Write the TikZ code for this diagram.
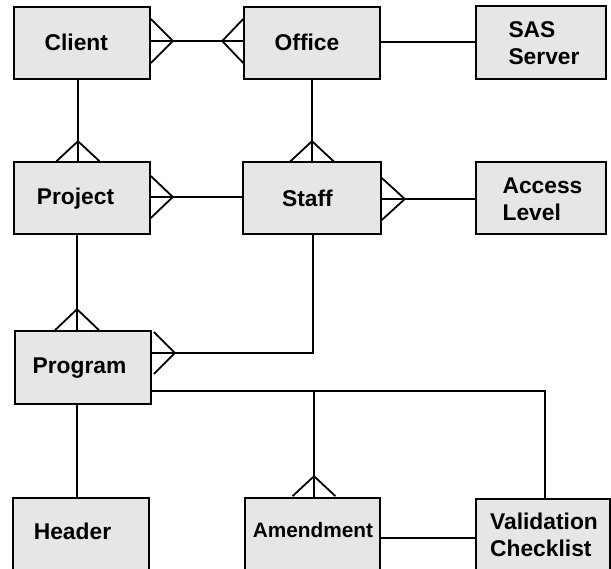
\documentclass[tikz,border=0pt]{standalone}
\usepackage{fontspec}
\setmainfont{Liberation Sans}
\usetikzlibrary{calc}
\definecolor{boxfill}{RGB}{230,230,230}
\begin{document}
\begin{tikzpicture}[x=1pt,y=-1pt,
  ent/.style={draw=black, fill=boxfill, line width=1.6pt, inner sep=0pt, minimum width=136pt, minimum height=72pt},
  lbl/.style={font=\fontsize{22.8}{27}\selectfont\bfseries, inner sep=0pt, text height=16.4pt, text depth=0pt},
  lbltwo/.style={font=\fontsize{22.8}{27}\selectfont\bfseries, inner sep=0pt, align=left},
  conn/.style={line width=1.8pt, line join=miter}]
\useasboundingbox (0,0) rectangle (611,569);
\fill[white] (0,0) rectangle (611,569);
% entities
\node[ent] (client) at (82,43) {};
\node[ent] (office) at (312,43) {};
\node[ent, minimum width=130pt, minimum height=73pt] (sas) at (541,42.5) {};
\node[ent] (project) at (82,198) {};
\node[ent, minimum width=138pt] (staff) at (312,198) {};
\node[ent, minimum width=130pt] (access) at (541,198) {};
\node[ent, minimum height=73pt] (program) at (83,367.5) {};
\node[ent, minimum height=77pt] (header) at (81,536.5) {};
\node[ent, minimum width=135pt, minimum height=77pt] (amend) at (312.5,536.5) {};
\node[ent, minimum width=134pt, minimum height=76pt] (valid) at (543,537) {};
% labels
\node[lbl] (clientT) at (76.3,42.5) {Client};
\node[lbl] (officeT) at (307,42.5) {Office};
\node[lbltwo] (sasT) at (544,43.5) {SAS\\Server};
\node[lbl] (projectT) at (75.5,196.5) {Project};
\node[lbl] (staffT) at (307.5,198.5) {Staff};
\node[lbltwo] (accessT) at (542.5,199) {Access\\Level};
\node[lbl] (programT) at (79.5,365.5) {Program};
\node[lbl] (headerT) at (72.5,531.5) {Header};
\node[lbl, font=\fontsize{20.8}{25}\selectfont\bfseries, text height=14.9pt] (amendT) at (313,530.5) {Amendment};
\node[lbltwo] (validT) at (544,535) {Validation\\Checklist};
% connectors
\draw[conn] (client.east |- 0,41) -- (office.west |- 0,41);
\draw[conn] (office.east |- 0,42) -- (sas.west |- 0,42);
\draw[conn] (78,0 |- client.south) -- (78,0 |- project.north);
\draw[conn] (312,0 |- office.south) -- (312,0 |- staff.north);
\draw[conn] (project.east |- 0,197) -- (staff.west |- 0,197);
\draw[conn] (staff.east |- 0,199) -- (access.west |- 0,199);
\draw[conn] (77,0 |- project.south) -- (77,0 |- program.north);
\draw[conn] (program.east |- 0,353) -| (313,0 |- staff.south);
\draw[conn] (program.east |- 0,391) -| (314,0 |- amend.north);
\draw[conn] (program.east |- 0,391) -| (545,0 |- valid.north);
\draw[conn] (77,0 |- program.south) -- (77,0 |- header.north);
\draw[conn] (amend.east |- 0,538) -- (valid.west |- 0,538);
% crow's feet
\draw[conn] (client.east |- 0,41) ++(0,-22) -- ++(22,22) -- ++(-22,22);
\draw[conn] (office.west |- 0,41) ++(0,-22) -- ++(-21,22) -- ++(21,22);
\draw[conn] (78,0 |- project.north) ++(-21.5,0) -- ++(21.5,-20) -- ++(21.5,20);
\draw[conn] (312,0 |- staff.north) ++(-21.5,0) -- ++(21.5,-20) -- ++(21.5,20);
\draw[conn] (project.east |- 0,197) ++(0,-21) -- ++(22,21) -- ++(-22,21);
\draw[conn] (staff.east |- 0,199) ++(0,-21) -- ++(23,21) -- ++(-23,21);
\draw[conn] (77,0 |- program.north) ++(-22,0) -- ++(22,-21) -- ++(22,21);
\draw[conn] (program.east |- 0,353) ++(2,-21) -- ++(21,21) -- ++(-21,21);
\draw[conn] (314,0 |- amend.north) ++(-21.5,-1) -- ++(21.5,-20) -- ++(21.5,20);
\end{tikzpicture}
\end{document}
